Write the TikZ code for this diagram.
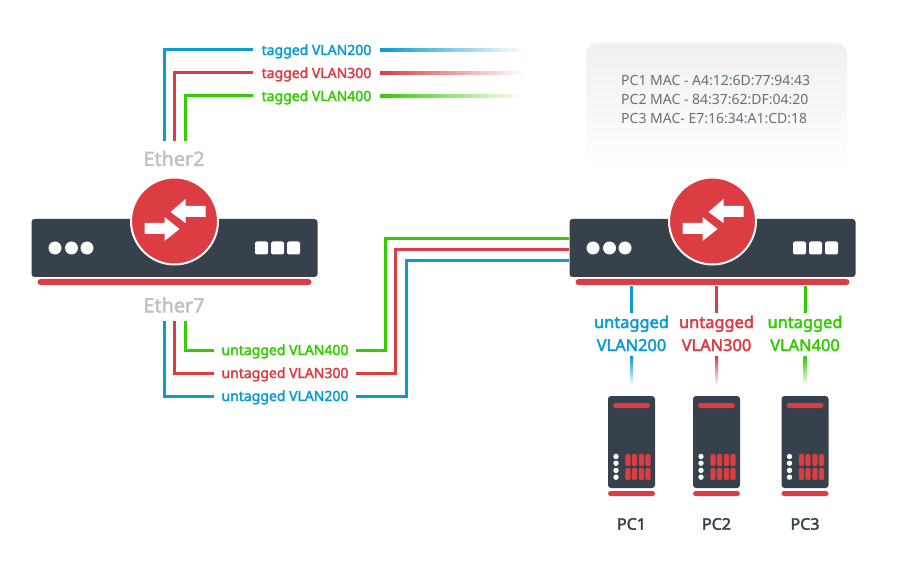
\documentclass[tikz,border=0pt]{standalone}
\usepackage{fontspec}
\setmainfont{Noto Sans}
\newfontfamily\heavyfont{Noto Sans}[FakeBold=2.4]
\usetikzlibrary{calc}
\definecolor{vblue}{HTML}{0B9BD0}
\definecolor{vred}{HTML}{DC3D43}
\definecolor{vgreen}{HTML}{33CC00}
\definecolor{slate}{HTML}{36414B}
\definecolor{ethgray}{HTML}{C0C0C0}
\definecolor{infogray}{HTML}{667079}
\tikzset{
  wire/.style={line width=3pt},
  vlantag/.style={font=\heavyfont\fontsize{14}{15}\selectfont,inner xsep=0pt,inner ysep=0pt,text height=10pt,text depth=0pt,minimum height=10pt},
  vlanport/.style={font=\heavyfont\fontsize{16.4}{18}\selectfont,inner xsep=0pt,inner ysep=2.5pt,text height=12pt,text depth=3pt},
  ethname/.style={font=\heavyfont\fontsize{19.8}{20}\selectfont,text=ethgray,inner sep=0pt},
  swbody/.style={fill=slate,rounded corners=3pt,minimum width=286pt,minimum height=58pt,inner sep=0pt},
  swbase/.style={fill=vred,rounded corners=3pt,minimum width=274pt,minimum height=6pt,inner sep=0pt},
  swdisc/.style={circle,fill=vred,draw=white,line width=2pt,minimum size=87pt,inner sep=0pt},
  pcbody/.style={fill=slate,rounded corners=3pt,minimum width=47pt,minimum height=92pt,inner sep=0pt},
  pcbar/.style={fill=vred,rounded corners=2.5pt,minimum height=5pt,inner sep=0pt},
  pcname/.style={font=\heavyfont\fontsize{16}{18}\selectfont,text=slate,inner sep=0pt},
}
\begin{document}
\begin{tikzpicture}[x=1pt,y=-1pt]
  \useasboundingbox (0,0) rectangle (900,572);
  % info panel
  \shade[top color=black!6,bottom color=white,rounded corners=11pt] (586,43) rectangle (847,170);
  \node[anchor=west,align=left,text=infogray,inner sep=0pt,font=\fontsize{14}{19}\selectfont] (macinfo) at (621,100)
    {PC1 MAC - A4:12:6D:77:94:43\\PC2 MAC - 84:37:62:DF:04:20\\PC3 MAC- E7:16:34:A1:CD:18};

  % port names
  \node[ethname] (ether2) at (174,158.5) {Ether2};
  \node[ethname] (ether7) at (174,305) {Ether7};

  % switches
  \foreach \name/\xx in {swA/174.5,swB/712.5}{
    \node[swbody] (\name) at (\xx,248) {};
    \node[swbase] (\name base) at (\xx,282) {};
    \node[swdisc] (\name disc) at (\xx,221) {};
    \fill[white,shift={(\name disc.center)}] (-4,-9) -- (11,-22) -- (11,-15) -- (31,-15) -- (31,-4) -- (11,-4) -- (11,2) -- cycle;
    \fill[white,shift={(\name disc.center)}] (5,8) -- (-10,-4) -- (-10,2) -- (-30,2) -- (-30,13) -- (-10,13) -- (-10,20) -- cycle;
    \foreach \dx in {-119.5,-103,-87.5}
      \fill[white] ($(\name.center)+(\dx,0)$) circle (6.5pt);
    \foreach \dx in {87,103,119}
      \fill[white,rounded corners=2pt] ($(\name.center)+(\dx-6.5,-6.5)$) rectangle ($(\name.center)+(\dx+6.5,6.5)$);
  }

  % tagged side
  \node[vlantag,minimum width=127pt,text=vblue]  (tag200) at (316.5,50) {tagged VLAN200};
  \node[vlantag,minimum width=127pt,text=vred]   (tag300) at (316.5,73) {tagged VLAN300};
  \node[vlantag,minimum width=127pt,text=vgreen] (tag400) at (316.5,96) {tagged VLAN400};
  \coordinate (up200) at (164,141);
  \coordinate (up300) at (174.5,141);
  \coordinate (up400) at (185,141);
  \draw[wire,vblue]  (up200) |- (tag200.west);
  \draw[wire,vred]   (up300) |- (tag300.west);
  \draw[wire,vgreen] (up400) |- (tag400.west);
  \foreach \vlan/\col in {200/vblue,300/vred,400/vgreen}{
    \coordinate (fade\vlan) at (525,0);
    \shade[left color=\col,right color=white] ([yshift=1.5pt]tag\vlan.east) rectangle ([yshift=-1.5pt]tag\vlan.east -| fade\vlan);
  }

  % untagged side
  \node[vlantag,minimum width=142pt,text=vgreen] (untag400) at (285,350) {untagged VLAN400};
  \node[vlantag,minimum width=142pt,text=vred]   (untag300) at (285,373) {untagged VLAN300};
  \node[vlantag,minimum width=142pt,text=vblue]  (untag200) at (285,396) {untagged VLAN200};
  \coordinate (dn200) at (164,321);
  \coordinate (dn300) at (174.5,321);
  \coordinate (dn400) at (185,321);
  \coordinate (bend400) at (385,239);
  \coordinate (bend300) at (395,250);
  \coordinate (bend200) at (406,261);
  \draw[wire,vblue]  (dn200) |- (untag200.west);
  \draw[wire,vred]   (dn300) |- (untag300.west);
  \draw[wire,vgreen] (dn400) |- (untag400.west);
  \draw[wire,vblue]  (untag200.east) -| (bend200) -- (bend200 -| swB.west);
  \draw[wire,vred]   (untag300.east) -| (bend300) -- (bend300 -| swB.west);
  \draw[wire,vgreen] (untag400.east) -| (bend400) -- (bend400 -| swB.west);

  % PCs
  \foreach \name/\xx/\vlan/\col in {PC1/631.5/200/vblue,PC2/716.5/300/vred,PC3/805/400/vgreen}{
    \node[vlanport,text=\col] (port\vlan) at (\xx,323.5) {untagged};
    \node[vlanport,text=\col] (vid\vlan) at (\xx,346.5) {VLAN\vlan};
    \node[pcbody] (\name) at (\xx,442) {};
    \node[pcbar,minimum width=37pt] (\name top) at (\xx,405.5) {};
    \node[pcbar,minimum width=47pt] (\name foot) at (\xx,493.5) {};
    \node[pcname] (\name label) at (\xx,524) {\name};
    \coordinate (drop\vlan) at (\xx,286);
    \draw[wire,\col] (drop\vlan) -- (port\vlan.north);
    \shade[top color=\col,bottom color=white] ([xshift=-1.5pt]vid\vlan.south) rectangle ([xshift=1.5pt,yshift=-29pt]vid\vlan.south);
    \foreach \yy in {-10.5,-3.8,3.4,10.2}
      \fill[white] ($(\name.center)+(-15.5,\yy+25)$) circle (2.7pt);
    \foreach \dx in {-3.5,3,10,16.5}
      \foreach \yy in {12,26}
        \fill[vred,rounded corners=2pt] ($(\name.center)+(\dx-2.7,\yy)$) rectangle ($(\name.center)+(\dx+2.7,\yy+12)$);
  }
\end{tikzpicture}
\end{document}
